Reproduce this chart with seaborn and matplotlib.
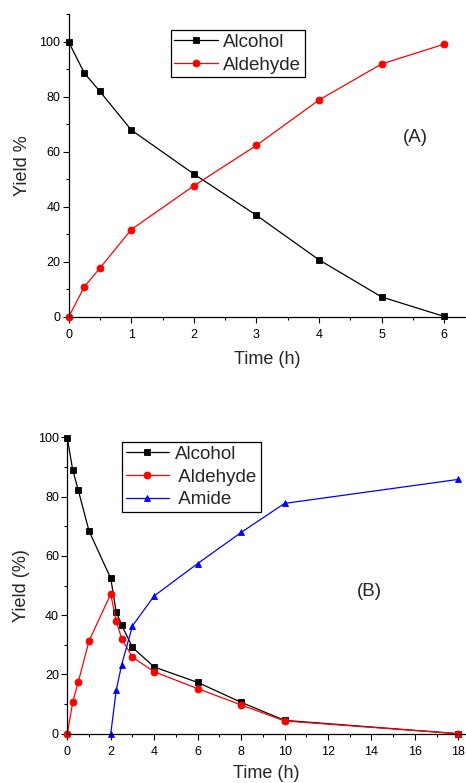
import numpy as np
import pandas as pd
import seaborn as sns
import matplotlib.pyplot as plt
from matplotlib.ticker import MultipleLocator

# Panel A data
time_a = [0, 0.25, 0.5, 1, 2, 3, 4, 5, 6]
alcohol_a = [100, 88.7, 82, 68, 52, 37, 20.8, 7.3, 0.2]
aldehyde_a = [0, 11, 17.8, 31.8, 47.7, 62.4, 78.9, 92, 99.2]

# Panel B data
time_b = [0, 0.25, 0.5, 1, 2, 2.25, 2.5, 3, 4, 6, 8, 10, 18]
alcohol_b = [99.7, 89, 82.3, 68.4, 52.4, 41.1, 36.7, 29.1, 22.5, 17.3, 10.6, 4.5, 0]
aldehyde_b = [0, 10.7, 17.3, 31.3, 47.1, 38.1, 32.1, 25.8, 20.9, 15.2, 9.7, 4.3, 0]
time_amide = [2, 2.25, 2.5, 3, 4, 6, 8, 10, 18]
amide_b = [0, 14.6, 23.2, 36.4, 46.5, 57.4, 67.9, 77.7, 85.8]

sns.set_style("ticks")
plt.rcParams['font.family'] = ['Liberation Sans', 'DejaVu Sans']
plt.rcParams['xtick.direction'] = 'out'
plt.rcParams['ytick.direction'] = 'out'

fig = plt.figure(figsize=(4.66, 7.83), dpi=100)
W, H = 466, 783


def px_axes(left, right, top, bottom):
    return fig.add_axes([left / W, 1 - bottom / H, (right - left) / W, (bottom - top) / H])


def style_axes(ax, xmaj, xmin, ymaj, ymin):
    for s in ['top', 'right']:
        ax.spines[s].set_visible(False)
    for s in ['left', 'bottom']:
        ax.spines[s].set_linewidth(0.9)
        ax.spines[s].set_color('black')
    ax.xaxis.set_major_locator(MultipleLocator(xmaj))
    ax.xaxis.set_minor_locator(MultipleLocator(xmin))
    ax.yaxis.set_major_locator(MultipleLocator(ymaj))
    ax.yaxis.set_minor_locator(MultipleLocator(ymin))
    ax.tick_params(which='major', length=4, width=0.8, labelsize=9, colors='black')
    ax.tick_params(axis='x', which='major', pad=5)
    ax.tick_params(axis='y', which='major', pad=2)
    ax.tick_params(which='minor', length=2.5, width=0.8, colors='black')
    ax.grid(False)


line_kw = dict(linewidth=0.9, markersize=5, markeredgewidth=0.6)
leg_kw = dict(loc='upper left', bbox_transform=fig.transFigure, fontsize=13.5,
              frameon=True, fancybox=False, edgecolor='black', framealpha=1,
              handlelength=2.3, handletextpad=0.3, borderpad=0.2,
              labelspacing=0.3, borderaxespad=0)

# ---- Panel A ----
ax1 = px_axes(68.7, 466, 14.5, 317)
sns.lineplot(x=time_a, y=alcohol_a, ax=ax1, color='black', marker='s',
             markeredgecolor='black', label='Alcohol', **line_kw)
sns.lineplot(x=time_a, y=aldehyde_a, ax=ax1, color='red', marker='o',
             markeredgecolor='red', label='Aldehyde', **line_kw)
ax1.set_xlim(0, 6.35)
ax1.set_ylim(0, 110)
style_axes(ax1, 1, 0.5, 20, 10)
ax1.set_xlabel('Time (h)', fontsize=13, labelpad=7)
ax1.set_ylabel('Yield %', fontsize=13, labelpad=6)
ax1.text(415 / W, 1 - 138 / H, '(A)', transform=fig.transFigure, fontsize=13.5,
         ha='center', va='center')
leg1 = ax1.legend(bbox_to_anchor=(170.7 / W, 1 - 30 / H), **leg_kw)
leg1.get_frame().set_linewidth(0.9)

# ---- Panel B ----
ax2 = px_axes(67.3, 466, 437.3, 733.7)
sns.lineplot(x=time_b, y=alcohol_b, ax=ax2, color='black', marker='s',
             markeredgecolor='black', label='Alcohol', **line_kw)
sns.lineplot(x=time_b, y=aldehyde_b, ax=ax2, color='red', marker='o',
             markeredgecolor='red', label=' Aldehyde', **line_kw)
sns.lineplot(x=time_amide, y=amide_b, ax=ax2, color='blue', marker='^',
             markeredgecolor='blue', label=' Amide', **line_kw)
ax2.set_xlim(0, 18.35)
ax2.set_ylim(0, 100)
style_axes(ax2, 2, 1, 20, 10)
ax2.set_xlabel('Time (h)', fontsize=13, labelpad=5)
ax2.set_ylabel('Yield (%)', fontsize=13, labelpad=6)
ax2.text(369 / W, 1 - 591 / H, '(B)', transform=fig.transFigure, fontsize=13.5,
         ha='center', va='center')
leg2 = ax2.legend(bbox_to_anchor=(122 / W, 1 - 442 / H), **leg_kw)
leg2.get_frame().set_linewidth(0.9)

for ax in (ax1, ax2):
    for l in ax.lines:
        l.set_clip_on(False)

fig.savefig('out.png', dpi=100)
